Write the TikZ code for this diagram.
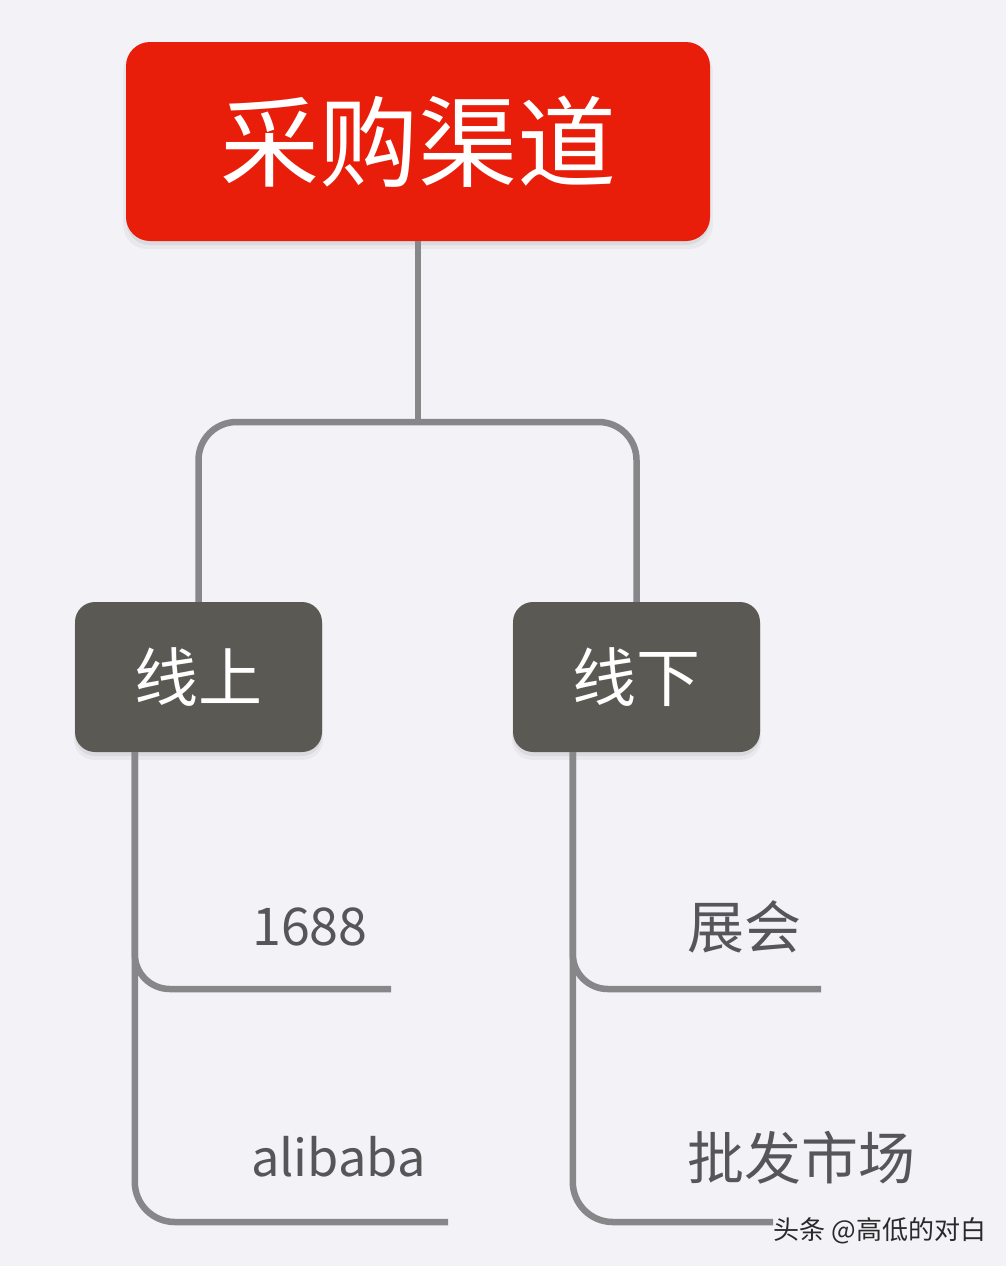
\documentclass[tikz,border=0pt]{standalone}
\usepackage{fontspec}
\setmainfont{Noto Sans CJK SC}
\usetikzlibrary{shadows}
\definecolor{bg}{HTML}{F3F2F6}
\definecolor{titlered}{HTML}{E81E0A}
\definecolor{darkbox}{HTML}{5A5954}
\definecolor{conngray}{HTML}{878689}
\definecolor{labelgray}{HTML}{565659}
\definecolor{wmark}{HTML}{2A2A2A}
\begin{document}
\begin{tikzpicture}[x=1pt,y=-1pt,
  conn/.style={draw=conngray, line width=6.5pt},
  boxshadow/.style={
    drop shadow={shadow xshift=0pt, shadow yshift=-7pt, shadow scale=1.01, opacity=0.04, fill=black},
    drop shadow={shadow xshift=0pt, shadow yshift=-4pt, opacity=0.06, fill=black}},
  titlebox/.style={fill=titlered, rounded corners=24pt, minimum width=584pt, minimum height=199pt,
    text=white, font=\fontsize{99}{110}\selectfont, inner sep=0pt, boxshadow},
  catbox/.style={fill=darkbox, rounded corners=20pt, minimum width=247pt, minimum height=150pt,
    text=white, font=\fontsize{64}{70}\selectfont, inner sep=0pt, boxshadow},
  leaf/.style={text=labelgray, inner sep=0pt, anchor=base west},
  latinleaf/.style={leaf, font=\fontsize{52}{60}\selectfont},
  cjkleaf/.style={leaf, font=\fontsize{57}{64}\selectfont},
]
\fill[bg] (0,0) rectangle (1006,1266);
\useasboundingbox (0,0) rectangle (1006,1266);

% main nodes
\node[titlebox] (title) at (418,141.5) {采购渠道};
\node[catbox] (online) at (198.5,677) {线上};
\node[catbox] (offline) at (636.5,677) {线下};

% upper connectors
\coordinate (hub) at (418,422);
\draw[conn] (title.south) -- (hub);
\draw[conn, rounded corners=38pt] (online.north) |- (hub) -| (offline.north);

% branch stems
\coordinate (onS) at ([xshift=60pt]online.south west);
\coordinate (offS) at ([xshift=60pt]offline.south west);
\coordinate (e1) at (391,989);
\coordinate (e2) at (448,1222);
\coordinate (e3) at (821,989);
\coordinate (e4) at (773,1222);
\draw[conn, rounded corners=35pt] (onS) |- (e1);
\draw[conn, rounded corners=40pt] (onS) |- (e2);
\draw[conn, rounded corners=35pt] (offS) |- (e3);
\draw[conn, rounded corners=40pt] (offS) |- (e4);

% leaf labels
\node[latinleaf] (l1) at (252,945) {1688};
\node[latinleaf, font=\fontsize{50.5}{60}\selectfont] (l2) at (251,1176) {alibaba};
\node[cjkleaf] (r1) at (687,948) {展会};
\node[cjkleaf] (r2) at (687,1179) {批发市场};

% watermark
\node[text=wmark, inner sep=0pt, font=\fontsize{26}{30}\selectfont] (wm) at (880,1231) {头条 @高低的对白};
\end{tikzpicture}
\end{document}
